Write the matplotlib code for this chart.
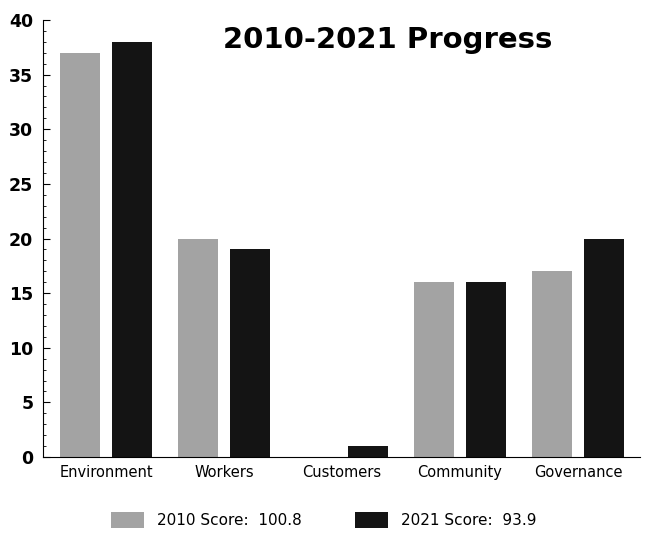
import matplotlib.pyplot as plt
import numpy as np

categories = ['Environment', 'Workers', 'Customers', 'Community', 'Governance']
score_2010 = [37, 20, 0, 16, 17]
score_2021 = [38, 19, 1, 16, 20]
legend_labels = ['2010 Score:  100.8', '2021 Score:  93.9']

fig = plt.figure(figsize=(6.47, 5.38), dpi=100)
ax = fig.add_axes([43 / 647, 1 - 457 / 538, (640 - 43) / 647, (457 - 20) / 538])

x = np.arange(len(categories))
w = 0.34
ax.bar(x - 0.22, score_2010, w, color='#a3a3a3', label=legend_labels[0])
ax.bar(x + 0.22, score_2021, w, color='#141414', label=legend_labels[1])

ax.set_xlim(-0.534, 4.525)
ax.set_ylim(0, 40)
ax.set_yticks(range(0, 41, 5))
ax.set_xticks(x)
ax.set_xticklabels(categories, fontsize=10.5)
ax.set_yticks(np.arange(0, 40, 1), minor=True)
ax.tick_params(axis='y', direction='in', length=5, labelsize=12.5, pad=7)
ax.tick_params(axis='y', which='minor', direction='in', length=2)
ax.tick_params(axis='x', length=0, pad=6)
for lbl in ax.get_yticklabels():
    lbl.set_fontweight('bold')

for s in ['top', 'right']:
    ax.spines[s].set_visible(False)

ax.text(0.578, 0.955, '2010-2021 Progress', transform=ax.transAxes,
        ha='center', va='center', fontsize=21, fontweight='bold')

fig.legend(loc='center', bbox_to_anchor=(0.5, 1 - 520 / 538), ncol=2,
           frameon=False, fontsize=11, handlelength=2.2, handleheight=1.2,
           columnspacing=3.5)

fig.savefig('out.png', dpi=100)
